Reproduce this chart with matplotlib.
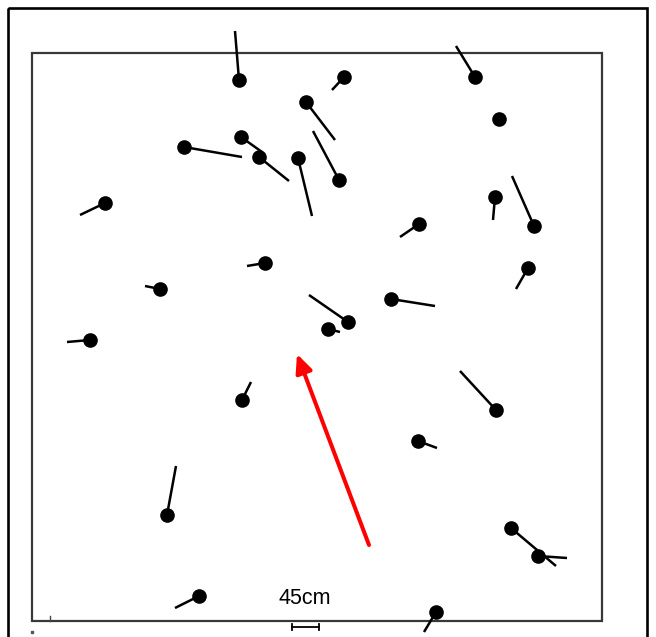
import matplotlib.pyplot as plt
from matplotlib.patches import Rectangle

# dot centres (pixel coords, y downwards) and where each tail ends
dot_x = [239, 344, 475, 306, 499, 241, 184, 259, 298, 339, 105, 495, 534, 419, 528,
         265, 160, 391, 348, 328, 90, 242, 496, 418, 167, 511, 538, 199, 436]
dot_y = [80, 77, 77, 102, 119, 137, 147, 157, 158, 180, 203, 197, 226, 224, 268,
         263, 289, 299, 322, 329, 340, 400, 410, 441, 515, 528, 556, 596, 612]
tail_x = [235, 332, 456, 335, 499, 262, 242, 289, 312, 313, 80, 493, 512, 400, 516,
          247, 145, 435, 309, 340, 67, 251, 460, 437, 176, 556, 567, 175, 424]
tail_y = [31, 90, 46, 140, 119, 152, 157, 181, 216, 131, 215, 220, 176, 237, 289,
          266, 286, 306, 295, 332, 342, 382, 371, 448, 466, 566, 558, 608, 632]

arrow_start = (369, 545)
arrow_end = (297, 354)
scale_label = "45cm"
scale_bar = (292, 319)

fig = plt.figure(figsize=(6.56, 6.37), dpi=100)
ax = fig.add_axes([0, 0, 1, 1])
ax.set_xlim(0, 656)
ax.set_ylim(637, 0)
ax.axis('off')

# outer frame (bottom edge cut off) and the plot square
ax.add_patch(Rectangle((8, 8), 639, 640, fill=False, ec='black', lw=1.9))
ax.add_patch(Rectangle((32, 52.5), 569.5, 568.5, fill=False, ec='#383838', lw=1.6))

# tails then dots
for x0, y0, x1, y1 in zip(dot_x, dot_y, tail_x, tail_y):
    ax.plot([x0, x1], [y0, y1], color='black', lw=1.8, solid_capstyle='butt')
ax.plot(dot_x, dot_y, 'o', color='black', ms=9.5)

# red arrow
ax.annotate('', xy=arrow_end, xytext=arrow_start,
            arrowprops=dict(arrowstyle='-|>,head_length=1.1,head_width=0.5',
                            color='red', lw=2.9, shrinkA=0, shrinkB=0))

# scale bar
ax.text(305, 599, scale_label, ha='center', va='center', fontsize=15.5,
        family='Liberation Sans')
ax.plot(scale_bar, [627, 627], color='black', lw=1.3)
for sx in scale_bar:
    ax.plot([sx, sx], [624, 630], color='black', lw=1.3)

# small stray marks
ax.plot([50, 50], [616, 621], color='#444444', lw=1)
ax.plot(32, 632, 's', color='#555555', ms=1.5)

fig.savefig('out.png', dpi=100)
